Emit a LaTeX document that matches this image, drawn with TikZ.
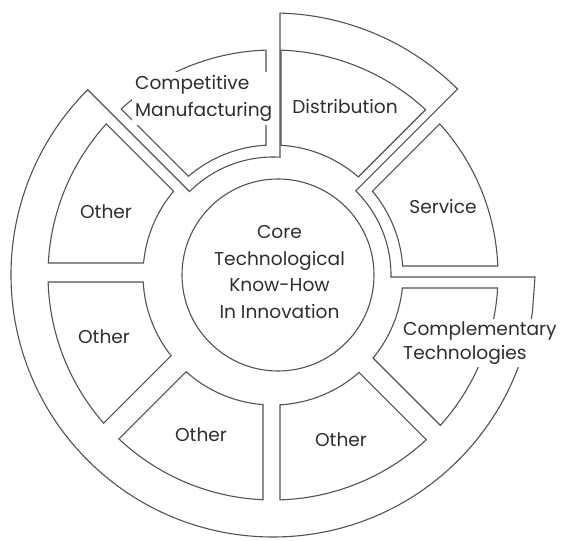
\documentclass[tikz,border=0pt]{standalone}
\usepackage{fontspec}
\setmainfont{Poppins}
\usetikzlibrary{calc}
\newcommand{\segbox}[4]{%
  \pgfmathsetmacro{\sAi}{#1+asin(#2/130)}%
  \pgfmathsetmacro{\sAo}{#1+asin(#2/225)}%
  \pgfmathsetmacro{\sBi}{#3-asin(#4/130)}%
  \pgfmathsetmacro{\sBo}{#3-asin(#4/225)}%
  \draw[seg] (\sAi:130pt) -- (\sAo:225pt) arc[start angle=\sAo, end angle=\sBo, radius=225pt]
    -- (\sBi:130pt) arc[start angle=\sBi, end angle=\sAi, radius=130pt] -- cycle;
}
\begin{document}
\begin{tikzpicture}[x=1pt,y=1pt,
  seg/.style={draw=black!68, line width=1.1pt, line join=miter},
  lab/.style={text=black!82, font=\fontsize{18.6}{26.5}\selectfont, inner sep=0pt},
  ]
\useasboundingbox (0,0) rectangle (564,540);
\begin{scope}[shift={(273,265)}]
  % segment boxes
  \segbox{0}{9}{45}{11}     % Service
  \segbox{45}{9}{90}{8}     % Distribution
  \segbox{90}{7}{135}{10}   % Competitive Manufacturing
  \segbox{135}{11}{180}{12} % Other (upper left)
  \segbox{180}{7}{225}{15}  % Other (left)
  \segbox{225}{7}{270}{10}  % Other (lower left)
  \segbox{270}{7}{315}{8}   % Other (lower right)
  \segbox{315}{12}{360}{13} % Complementary Technologies
  % big outline
  \draw[seg] ({90-asin(7/262)}:262pt) -- ({90-asin(7/118)}:118pt)
    arc[start angle={90-asin(7/118)}, end angle=135, radius=118pt]
    -- (135:262pt) arc[start angle=135, end angle=352, radius=262pt]
    -- (262pt,-2pt) -- ({-asin(2/118)}:118pt)
    arc[start angle={-asin(2/118)}, end angle=45.5, radius=118pt]
    -- (45.2:262pt) arc[start angle=45.2, end angle={90-asin(7/262)}, radius=262pt] -- cycle;
  % core
  \draw[seg] (5,0) circle[radius=96pt];
  % labels
  \node[lab, align=center] (core) at (6.5,3) {Core\\Technological\\Know-How\\In Innovation};
  \node[lab, align=left, anchor=west, fill=white, inner sep=3pt, font=\fontsize{18.6}{27}\selectfont] (cm) at (-141,176.5) {Competitive\\Manufacturing};
  \node[lab] (dist) at (72,168) {Distribution};
  \node[lab] (serv) at (170,68) {Service};
  \node[lab] (o1) at (-167,63) {Other};
  \node[lab] (o2) at (-169,-62) {Other};
  \node[lab] (o3) at (-72,-160) {Other};
  \node[lab] (o4) at (68,-165) {Other};
  \node[lab, align=left, anchor=west, fill=white, inner sep=3pt, font=\fontsize{18.6}{24}\selectfont] (ct) at (127,-68) {Complementary\\Technologies};
\end{scope}
\end{tikzpicture}
\end{document}
